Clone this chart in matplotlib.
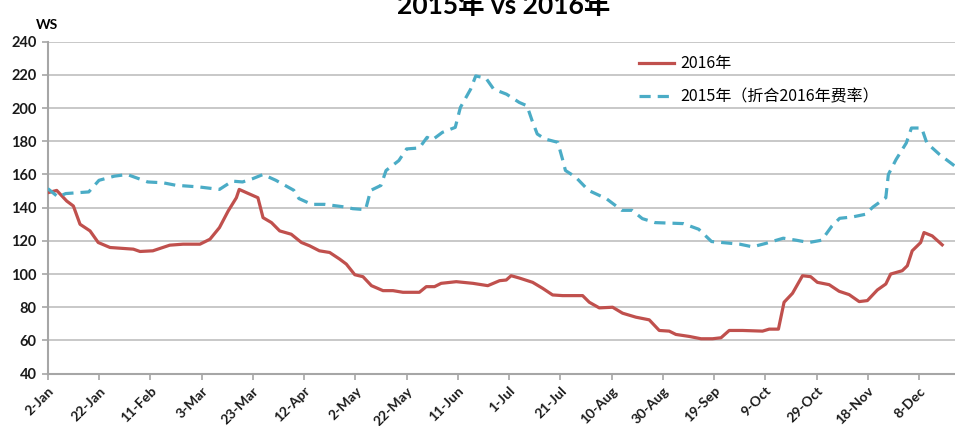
import matplotlib
matplotlib.use("Agg")
import matplotlib.pyplot as plt

# days counted from 2-Jan
red_days = [0, 3.5, 7.4, 10, 12.6, 16.5, 19.7, 24.3, 33.4, 36, 41, 47.6, 52.8, 59.4, 63.3, 67, 70.4,
            73.6, 74.7, 77.6, 82, 84, 87.3, 90.5, 95, 99, 102.2, 106, 110, 113.9, 116.5, 119.8, 123,
            126.3, 130.8, 134.7, 138.6, 145, 147.7, 150.9, 153.5, 159.4, 165.9, 171.7, 176.3, 178.9,
            180.8, 184, 189.2, 193.1, 197, 200.9, 208.7, 211.3, 215.2, 220.4, 224.3, 229.5, 234.7,
            238.6, 242.5, 245.1, 250.3, 254.9, 259.4, 262.7, 265.9, 271.1, 278.9, 281.5, 285.1, 287.3,
            290.6, 294.5, 297.7, 300.3, 304.9, 308.8, 312.7, 316.6, 319.8, 323.7, 327, 328.9, 333.4,
            335.4, 337.3, 340.6, 341.9, 345.1, 349]
red_vals = [149, 150.4, 144, 141, 130, 126, 119, 116, 115, 113.6, 114, 117.4, 118, 118, 121, 128, 138,
            146, 151, 149, 146, 134, 131, 126, 124, 119, 117, 114, 113, 109, 106, 99.6, 98.4,
            93, 90, 90, 89, 89, 92.4, 92.4, 94.4, 95.4, 94.4, 93, 96, 96.4,
            99, 97.6, 95, 91.4, 87.4, 87, 87, 83, 79.6, 80, 76.4, 74, 72.4,
            66, 65.6, 63.6, 62.4, 61, 61, 61.6, 66, 66, 65.6, 66.8, 66.8, 83,
            88.4, 99, 98.4, 95, 93.6, 89.6, 87.6, 83.4, 84, 90.4, 94, 100, 102,
            105, 114, 119, 125, 123, 117.6]

blue_days = [0, 4, 7, 16, 20, 26, 31, 39, 45, 50, 59, 67, 72, 76, 80, 84, 89, 96, 98, 103, 108, 116,
             119, 124, 126, 130, 132, 137, 140, 145, 148, 150, 154, 159, 161, 165, 167, 171, 174,
             179, 184, 187, 189, 191, 194, 199, 201, 202, 206, 211, 218, 224, 228, 232, 237, 248,
             254, 259, 270, 275, 280, 287, 292, 297, 302, 306, 309, 314, 319, 322, 327, 328, 331,
             335, 337, 341, 343, 348, 354]
blue_vals = [151.5, 146.5, 148.5, 149.5, 156.5, 159, 160, 155.5, 155, 153.5, 152.5, 151, 156, 155.5,
             157.5, 160, 156.5, 150.5, 145.5, 142, 142, 140.4, 139.4, 138.8, 150.4, 153.4, 162.4,
             168.4, 175.4, 176, 182.4, 180.8, 185.4, 188.4, 200.4, 211.4, 219.4, 218, 211.4, 208.4,
             203.4, 201.4, 192.4, 184.4, 181.4, 179.4, 168.4, 162.4, 158.4, 150.4, 145.4, 138.4,
             138.4, 133.4, 131, 130.4, 127, 119.6, 118, 116.4, 118.4, 121.6, 120.4, 119, 120.4,
             129, 133.6, 134.4, 136, 140.4, 146, 160, 169, 179, 188, 188, 179, 172, 165]

tick_labels = ["2-Jan", "22-Jan", "11-Feb", "3-Mar", "23-Mar", "12-Apr", "2-May", "22-May", "11-Jun",
               "1-Jul", "21-Jul", "10-Aug", "30-Aug", "19-Sep", "9-Oct", "29-Oct", "18-Nov", "8-Dec"]
y_ticks = [40, 60, 80, 100, 120, 140, 160, 180, 200, 220, 240]

red = "#C0504D"
blue = "#4BACC6"
cjk = ["Noto Sans CJK SC", "DejaVu Sans"]

fig = plt.figure(figsize=(9.55, 4.26), dpi=100)
ax = fig.add_axes([0.05, 0.123, 0.95, 0.779])

ax.plot(red_days, red_vals, color=red, lw=2.3, label="2016年", zorder=3)
ax.plot(blue_days, blue_vals, color=blue, lw=2.3, dashes=(3.5, 2.2),
        label="2015年（折合2016年费率）", zorder=3)

ax.set_xlim(0, 354)
ax.set_ylim(40, 240)
ax.set_yticks(y_ticks)
ax.set_xticks([20 * i for i in range(len(tick_labels))])
ax.set_xticklabels(tick_labels, rotation=45, ha="right", rotation_mode="anchor",
                   fontfamily="Lato", fontweight="bold", fontsize=10)
for lab in ax.get_yticklabels():
    lab.set_fontfamily("Lato")
    lab.set_fontweight("bold")
    lab.set_fontsize(10.5)

ax.grid(axis="y", color="#bfbfbf", lw=1.2)
ax.set_axisbelow(True)
for s in ["top", "right"]:
    ax.spines[s].set_visible(False)
for s in ["left", "bottom"]:
    ax.spines[s].set_color("#a6a6a6")
    ax.spines[s].set_linewidth(1.5)
ax.tick_params(axis="both", color="#a6a6a6", length=4, width=1.2, labelcolor="#1a1a1a")
ax.tick_params(axis="x", pad=4)
ax.tick_params(axis="y", pad=4)

leg = ax.legend(loc="upper left", bbox_to_anchor=(0.636, 1.002), frameon=False,
                prop={"family": cjk, "size": 11.5}, handlelength=2.2, labelspacing=1.0,
                handletextpad=0.4)

fig.text(0.527, 1 - 14 / 426, "2015年 vs 2016年", ha="center", va="baseline",
         fontsize=19, fontweight="bold", family=["Lato", "Noto Sans CJK SC"])
fig.text(0.038, 1 - 25 / 426, "WS", ha="left", va="center", fontsize=10, fontweight="bold",
         family="Lato")

fig.savefig("out.png", dpi=100)
